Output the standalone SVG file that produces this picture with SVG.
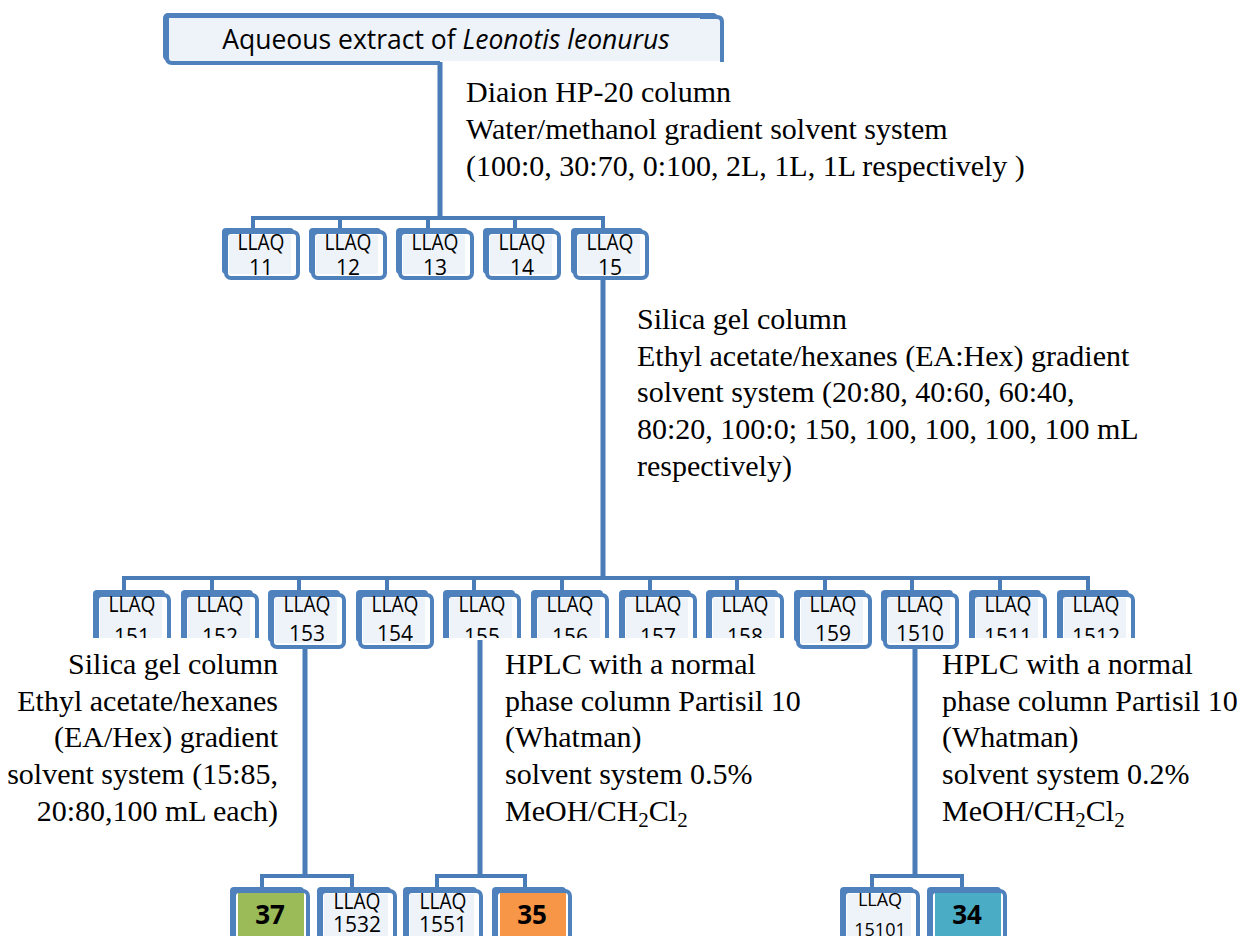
<svg xmlns="http://www.w3.org/2000/svg" xmlns:xlink="http://www.w3.org/1999/xlink" width="1241" height="936" viewBox="0 0 1241 936">
<style>
.bk{fill:#4F81BD}
.fr{fill:#FFFFFF;stroke:#4F81BD;stroke-width:4}
.lt{fill:#EEF2F9}
.gr{fill:#9BBB59}
.or{fill:#F79646}
.tl{fill:#4BACC6}
.con{fill:none;stroke:#4A7CB8;stroke-width:4}
.main{fill:none;stroke:#4A7CB8;stroke-width:5}
.lab{font-family:"Open Sans","Liberation Sans",sans-serif;font-size:21px;fill:#000;text-anchor:middle}
.sm{font-size:18px}
.num{font-family:"Open Sans","Liberation Sans",sans-serif;font-size:26px;font-weight:bold;fill:#000;text-anchor:middle}
.note{font-family:"Liberation Serif","Times New Roman",serif;font-size:30px;fill:#000}
.sub{font-size:21px}
</style>
<defs>
<g id="f1">
<rect x="0" y="0" width="72" height="46" rx="4" class="bk"/>
<rect x="4" y="4" width="72" height="46" rx="5" class="fr"/>
<rect x="7" y="7" width="62" height="39" class="lt"/>
</g>
<g id="f2">
<rect x="0" y="0" width="72" height="52" rx="4" class="bk"/>
<rect x="4" y="5" width="72" height="52" rx="5" class="fr"/>
<rect x="7" y="8" width="62" height="45" class="lt"/>
</g>
<g id="f3">
<rect x="0" y="0" width="74" height="52" rx="4" class="bk"/>
<rect x="4" y="4" width="74" height="52" rx="5" class="fr"/>
</g>
<clipPath id="cut" clipPathUnits="userSpaceOnUse">
<rect x="-5" y="-5" width="95" height="53"/>
</clipPath>
</defs>

<g id="connectors">
<path class="main" d="M440,62 V218"/>
<path class="con" d="M253,218 H603 M253,216 V230 M340,216 V230 M428,216 V230 M515,216 V230 M603,216 V230"/>
<path class="main" d="M603,278 V578"/>
<path class="con" d="M124,578 H1090 M124,576 V592 M212,576 V592 M299,576 V592 M387,576 V592 M474,576 V592 M562,576 V592 M650,576 V592 M737,576 V592 M825,576 V592 M912,576 V592 M1000,576 V592 M1088,576 V592"/>
<path class="main" d="M305,640 V876 M480,640 V876 M915,640 V876"/>
<path class="con" d="M262,876 H352 M262,874 V889 M352,874 V889 M437,876 H525 M437,874 V889 M525,874 V889 M872,876 H962 M872,874 V889 M962,874 V889"/>
</g>

<g id="root">
<rect x="163" y="13" width="555" height="48" rx="5" class="bk"/>
<rect x="169" y="18" width="551" height="43" class="lt"/>
<path d="M440,63 H172 Q167,63 167,58" fill="none" stroke="#4F81BD" stroke-width="4"/>
<path d="M700,17 H717 Q722,17 722,22 V62" fill="none" stroke="#4F81BD" stroke-width="4"/>
<text x="446" y="49" class="lab" style="font-size:26.5px">Aqueous extract of <tspan font-style="italic">Leonotis leonurus</tspan></text>
</g>

<g id="n11" transform="translate(222,228)"><use xlink:href="#f1"/><text x="39" y="22" class="lab" textLength="47" lengthAdjust="spacingAndGlyphs">LLAQ</text><text x="39" y="47" class="lab">11</text></g>
<g id="n12" transform="translate(309,228)"><use xlink:href="#f1"/><text x="39" y="22" class="lab" textLength="47" lengthAdjust="spacingAndGlyphs">LLAQ</text><text x="39" y="47" class="lab">12</text></g>
<g id="n13" transform="translate(396,228)"><use xlink:href="#f1"/><text x="39" y="22" class="lab" textLength="47" lengthAdjust="spacingAndGlyphs">LLAQ</text><text x="39" y="47" class="lab">13</text></g>
<g id="n14" transform="translate(483,228)"><use xlink:href="#f1"/><text x="39" y="22" class="lab" textLength="47" lengthAdjust="spacingAndGlyphs">LLAQ</text><text x="39" y="47" class="lab">14</text></g>
<g id="n15" transform="translate(571,228)"><use xlink:href="#f1"/><text x="39" y="22" class="lab" textLength="47" lengthAdjust="spacingAndGlyphs">LLAQ</text><text x="39" y="47" class="lab">15</text></g>

<g id="n151" transform="translate(93,590)"><g clip-path="url(#cut)"><use xlink:href="#f2"/><text x="39" y="22" class="lab" textLength="47" lengthAdjust="spacingAndGlyphs">LLAQ</text><text x="39" y="54" class="lab">151</text></g></g>
<g id="n152" transform="translate(181,590)"><g clip-path="url(#cut)"><use xlink:href="#f2"/><text x="39" y="22" class="lab" textLength="47" lengthAdjust="spacingAndGlyphs">LLAQ</text><text x="39" y="54" class="lab">152</text></g></g>
<g id="n153" transform="translate(268,590)"><use xlink:href="#f2"/><text x="39" y="22" class="lab" textLength="47" lengthAdjust="spacingAndGlyphs">LLAQ</text><text x="39" y="51" class="lab">153</text></g>
<g id="n154" transform="translate(356,590)"><use xlink:href="#f2"/><text x="39" y="22" class="lab" textLength="47" lengthAdjust="spacingAndGlyphs">LLAQ</text><text x="39" y="51" class="lab">154</text></g>
<g id="n155" transform="translate(443,590)"><g clip-path="url(#cut)"><use xlink:href="#f2"/><text x="39" y="22" class="lab" textLength="47" lengthAdjust="spacingAndGlyphs">LLAQ</text><text x="39" y="54" class="lab">155</text></g></g>
<g id="n156" transform="translate(531,590)"><g clip-path="url(#cut)"><use xlink:href="#f2"/><text x="39" y="22" class="lab" textLength="47" lengthAdjust="spacingAndGlyphs">LLAQ</text><text x="39" y="54" class="lab">156</text></g></g>
<g id="n157" transform="translate(619,590)"><g clip-path="url(#cut)"><use xlink:href="#f2"/><text x="39" y="22" class="lab" textLength="47" lengthAdjust="spacingAndGlyphs">LLAQ</text><text x="39" y="54" class="lab">157</text></g></g>
<g id="n158" transform="translate(706,590)"><g clip-path="url(#cut)"><use xlink:href="#f2"/><text x="39" y="22" class="lab" textLength="47" lengthAdjust="spacingAndGlyphs">LLAQ</text><text x="39" y="54" class="lab">158</text></g></g>
<g id="n159" transform="translate(794,590)"><use xlink:href="#f2"/><text x="39" y="22" class="lab" textLength="47" lengthAdjust="spacingAndGlyphs">LLAQ</text><text x="39" y="51" class="lab">159</text></g>
<g id="n1510" transform="translate(881,590)"><use xlink:href="#f2"/><text x="39" y="22" class="lab" textLength="47" lengthAdjust="spacingAndGlyphs">LLAQ</text><text x="39" y="51" class="lab">1510</text></g>
<g id="n1511" transform="translate(969,590)"><g clip-path="url(#cut)"><use xlink:href="#f2"/><text x="39" y="22" class="lab" textLength="47" lengthAdjust="spacingAndGlyphs">LLAQ</text><text x="39" y="54" class="lab">1511</text></g></g>
<g id="n1512" transform="translate(1057,590)"><g clip-path="url(#cut)"><use xlink:href="#f2"/><text x="39" y="22" class="lab" textLength="47" lengthAdjust="spacingAndGlyphs">LLAQ</text><text x="39" y="54" class="lab">1512</text></g></g>

<g id="n37" transform="translate(230,887)"><use xlink:href="#f3"/><rect x="8" y="6" width="66" height="46" class="gr"/><text x="40" y="37" class="num">37</text></g>
<g id="n1532" transform="translate(317,887)"><use xlink:href="#f3"/><rect x="7" y="7" width="64" height="46" class="lt"/><text x="40" y="22" class="lab" textLength="47" lengthAdjust="spacingAndGlyphs">LLAQ</text><text x="40" y="45" class="lab">1532</text></g>
<g id="n1551" transform="translate(403,887)"><use xlink:href="#f3"/><rect x="7" y="7" width="64" height="46" class="lt"/><text x="40" y="22" class="lab" textLength="47" lengthAdjust="spacingAndGlyphs">LLAQ</text><text x="40" y="45" class="lab">1551</text></g>
<g id="n35" transform="translate(492,887)"><use xlink:href="#f3"/><rect x="8" y="6" width="66" height="46" class="or"/><text x="40" y="37" class="num">35</text></g>
<g id="n15101" transform="translate(840,887)"><use xlink:href="#f3"/><rect x="7" y="7" width="64" height="46" class="lt"/><text x="40" y="19" class="lab sm">LLAQ</text><text x="40" y="49" class="lab sm">15101</text></g>
<g id="n34" transform="translate(927,887)"><use xlink:href="#f3"/><rect x="8" y="6" width="66" height="46" class="tl"/><text x="40" y="37" class="num">34</text></g>

<g id="notes">
<text class="note" x="466" y="102">Diaion HP-20 column</text>
<text class="note" x="466" y="139">Water/methanol gradient solvent system</text>
<text class="note" x="466" y="176">(100:0, 30:70, 0:100, 2L, 1L, 1L respectively )</text>

<text class="note" x="637" y="329">Silica gel column</text>
<text class="note" x="637" y="366">Ethyl acetate/hexanes (EA:Hex) gradient</text>
<text class="note" x="637" y="402">solvent system (20:80, 40:60, 60:40,</text>
<text class="note" x="637" y="439">80:20, 100:0; 150, 100, 100, 100, 100 mL</text>
<text class="note" x="637" y="476">respectively)</text>

<text class="note" x="278" y="674" text-anchor="end">Silica gel column</text>
<text class="note" x="278" y="711" text-anchor="end">Ethyl acetate/hexanes</text>
<text class="note" x="278" y="747" text-anchor="end">(EA/Hex) gradient</text>
<text class="note" x="278" y="784" text-anchor="end">solvent system (15:85,</text>
<text class="note" x="278" y="821" text-anchor="end">20:80,100 mL each)</text>

<text class="note" x="505" y="674">HPLC with a normal</text>
<text class="note" x="505" y="711">phase column Partisil 10</text>
<text class="note" x="505" y="747">(Whatman)</text>
<text class="note" x="505" y="784">solvent system 0.5%</text>
<text class="note" x="505" y="821">MeOH/CH<tspan class="sub" dy="6">2</tspan><tspan dy="-6">Cl</tspan><tspan class="sub" dy="6">2</tspan></text>

<text class="note" x="942" y="674">HPLC with a normal</text>
<text class="note" x="942" y="711">phase column Partisil 10</text>
<text class="note" x="942" y="747">(Whatman)</text>
<text class="note" x="942" y="784">solvent system 0.2%</text>
<text class="note" x="942" y="821">MeOH/CH<tspan class="sub" dy="6">2</tspan><tspan dy="-6">Cl</tspan><tspan class="sub" dy="6">2</tspan></text>
</g>
</svg>
